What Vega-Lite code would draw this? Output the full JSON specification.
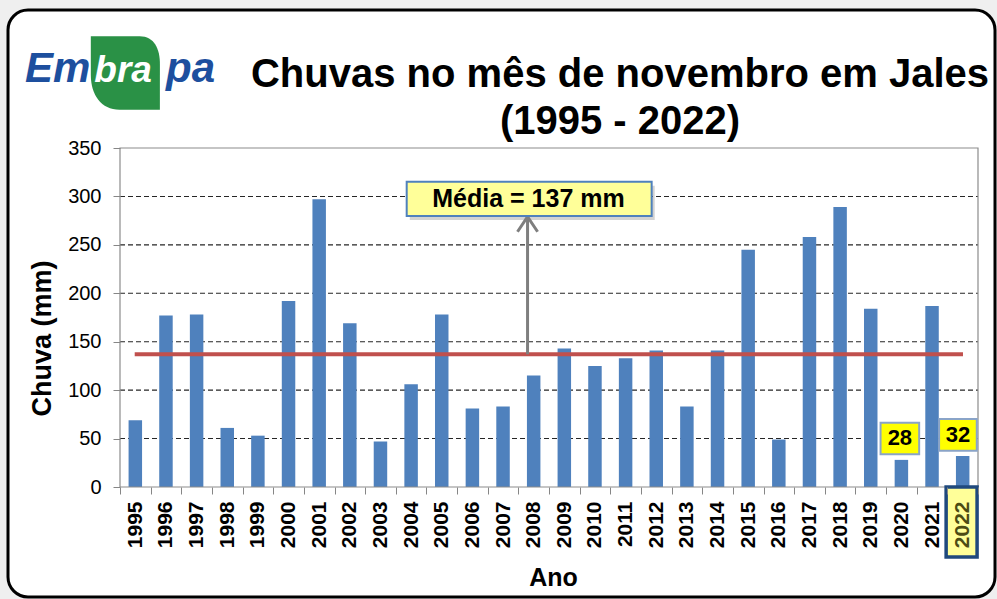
{
  "$schema": "https://vega.github.io/schema/vega-lite/v6.json",
  "width": 858,
  "height": 339,
  "autosize": {"type": "none"},
  "padding": {"left": 120, "top": 148, "right": 19, "bottom": 112},
  "background": "#efefef",
  "config": {
    "view": {"stroke": null},
    "font": "Liberation Sans"
  },
  "datasets": {
    "chuva": [
      {"ano": "1995", "chuva": 69}, {"ano": "1996", "chuva": 177}, {"ano": "1997", "chuva": 178},
      {"ano": "1998", "chuva": 61}, {"ano": "1999", "chuva": 53}, {"ano": "2000", "chuva": 192},
      {"ano": "2001", "chuva": 297}, {"ano": "2002", "chuva": 169}, {"ano": "2003", "chuva": 47},
      {"ano": "2004", "chuva": 106}, {"ano": "2005", "chuva": 178}, {"ano": "2006", "chuva": 81},
      {"ano": "2007", "chuva": 83}, {"ano": "2008", "chuva": 115}, {"ano": "2009", "chuva": 143},
      {"ano": "2010", "chuva": 125}, {"ano": "2011", "chuva": 133}, {"ano": "2012", "chuva": 141},
      {"ano": "2013", "chuva": 83}, {"ano": "2014", "chuva": 141}, {"ano": "2015", "chuva": 245},
      {"ano": "2016", "chuva": 49}, {"ano": "2017", "chuva": 258}, {"ano": "2018", "chuva": 289},
      {"ano": "2019", "chuva": 184}, {"ano": "2020", "chuva": 28}, {"ano": "2021", "chuva": 187},
      {"ano": "2022", "chuva": 32}
    ],
    "panel": [{"x": -3.655, "x2": 28.555, "y": 492.5, "y2": -113.6}],
    "grid": [{"y": 50}, {"y": 100}, {"y": 150}, {"y": 200}, {"y": 250}, {"y": 300}],
    "frame": [{"x": 0, "x2": 28, "y": 0, "y2": 350}],
    "media": [{"x": 0.48, "x2": 27.51, "y": 137}],
    "seta": [{"x": 13.3, "y": 137, "y2": 278}],
    "ponta": [{"x": 13.3, "y": 271.3}],
    "sombra": [{"x": 9.456, "x2": 17.45, "y": 311.1, "y2": 275.7}],
    "caixaMedia": [{"x": 9.356, "x2": 17.35, "y": 315.2, "y2": 279.8, "texto": "Média = 137 mm", "tx": 13.33, "ty": 297.5}],
    "caixa28": [{"x": 24.82, "x2": 26.08, "y": 66.4, "y2": 33.8, "texto": "28", "tx": 25.45, "ty": 50.1}],
    "caixa32": [{"x": 26.73, "x2": 27.96, "y": 70.2, "y2": 37.5, "texto": "32", "tx": 27.35, "ty": 53.8}],
    "caixa2022": [{"x": 26.96, "x2": 27.97, "y": 0, "y2": -72.3}],
    "titulo": [
      {"x": 16.317, "y": 413.0, "texto": "Chuvas no mês de novembro em Jales"},
      {"x": 16.317, "y": 364.5, "texto": "(1995 - 2022)"}
    ],
    "folha": [{"x": 0.163, "y": 427.4}],
    "logoEm": [{"x": -3.1, "y": 418.1, "texto": "Em"}],
    "logoPa": [{"x": 3.1, "y": 418.1, "texto": "pa"}],
    "logoBranco": [{"x": 0.1, "y": 418.1, "texto": "bra"}]
  },
  "resolve": {"scale": {"x": "independent"}},
  "layer": [
    {
      "layer": [
        {
          "data": {"name": "panel"},
          "mark": {"type": "rect", "fill": "#ffffff", "stroke": "#000000", "strokeWidth": 3, "cornerRadius": 20},
          "encoding": {
            "x": {"field": "x", "type": "quantitative", "scale": {"domain": [0, 28], "nice": false, "zero": false}, "axis": null},
            "x2": {"field": "x2"},
            "y": {"field": "y", "type": "quantitative", "scale": {"domain": [0, 350], "nice": false}, "title": "Chuva (mm)"},
            "y2": {"field": "y2"}
          }
        },
        {
          "data": {"name": "grid"},
          "mark": {"type": "rule", "stroke": "#262626", "strokeWidth": 1.1, "strokeDash": [5, 3]},
          "encoding": {
            "x": {"datum": 0, "type": "quantitative", "scale": {"domain": [0, 28], "nice": false, "zero": false}, "axis": null},
            "x2": {"datum": 28},
            "y": {"field": "y", "type": "quantitative", "scale": {"domain": [0, 350], "nice": false}, "title": "Chuva (mm)"}
          }
        }
      ]
    },
    {
      "data": {"name": "chuva"},
      "mark": {"type": "bar", "color": "#4F81BD", "width": {"band": 0.44}},
      "encoding": {
        "x": {
          "field": "ano",
          "type": "nominal",
          "sort": null,
          "scale": {"paddingInner": 0, "paddingOuter": 0},
          "axis": {
            "title": "Ano",
            "domain": false,
            "tickBand": "extent",
            "tickColor": "#868686",
            "tickSize": 7,
            "labelAngle": 270,
            "labelAlign": "right",
            "labelBaseline": "middle",
            "labelFont": "Liberation Sans",
            "labelFontSize": 21,
            "labelFontWeight": "bold",
            "labelPadding": 7,
            "labelColor": {"condition": {"test": "datum.value == '2022'", "value": "#4c4c14"}, "value": "#000000"},
            "titleFont": "Liberation Sans",
            "titleFontSize": 25,
            "titleFontWeight": "bold",
            "titleColor": "#000000",
            "titleBaseline": "alphabetic",
            "titleX": 433,
            "titleY": 98,
            "zindex": 1
          }
        },
        "y": {
          "field": "chuva",
          "type": "quantitative",
          "scale": {"domain": [0, 350], "nice": false},
          "title": "Chuva (mm)",
          "axis": {
            "values": [0, 50, 100, 150, 200, 250, 300, 350],
            "grid": false,
            "domain": false,
            "tickColor": "#868686",
            "tickSize": 7,
            "labelFont": "Liberation Sans",
            "labelFontSize": 20,
            "labelColor": "#000000",
            "labelPadding": 12,
            "titleFont": "Liberation Sans",
            "titleFontSize": 27,
            "titleFontWeight": "bold",
            "titleColor": "#000000",
            "titleAngle": 270,
            "titleAlign": "center",
            "titleBaseline": "middle",
            "titleX": -78,
            "titleY": 190,
            "zindex": 1
          }
        }
      }
    },
    {
      "encoding": {
        "x": {"field": "x", "type": "quantitative", "scale": {"domain": [0, 28], "nice": false, "zero": false}, "axis": null},
        "y": {"field": "y", "type": "quantitative", "scale": {"domain": [0, 350], "nice": false}, "title": "Chuva (mm)"}
      },
      "layer": [
        {
          "data": {"name": "frame"},
          "mark": {"type": "rect", "fill": null, "fillOpacity": 0, "stroke": "#8c8c8c", "strokeWidth": 1.2},
          "encoding": {"x2": {"field": "x2"}, "y2": {"field": "y2"}}
        },
        {
          "data": {"name": "media"},
          "mark": {"type": "rule", "stroke": "#C0504D", "strokeWidth": 4},
          "encoding": {"x2": {"field": "x2"}}
        },
        {
          "data": {"name": "seta"},
          "mark": {"type": "rule", "stroke": "#7f7f7f", "strokeWidth": 3},
          "encoding": {"y2": {"field": "y2"}}
        },
        {
          "data": {"name": "ponta"},
          "mark": {"type": "point", "shape": "M-0.67,0.5L0,-0.5L0.67,0.5", "filled": false, "stroke": "#7f7f7f", "strokeWidth": 3, "size": 900, "opacity": 1},
          "encoding": {}
        },
        {
          "data": {"name": "sombra"},
          "mark": {"type": "rect", "fill": "#808080", "opacity": 0.35},
          "encoding": {"x2": {"field": "x2"}, "y2": {"field": "y2"}}
        },
        {
          "data": {"name": "caixaMedia"},
          "mark": {"type": "rect", "fill": "#FFFF99", "stroke": "#4F81BD", "strokeWidth": 2},
          "encoding": {"x2": {"field": "x2"}, "y2": {"field": "y2"}}
        },
        {
          "data": {"name": "caixaMedia"},
          "mark": {"type": "text", "font": "Liberation Sans", "fontSize": 25, "fontWeight": "bold", "color": "#000000", "align": "center", "baseline": "middle"},
          "encoding": {
            "x": {"field": "tx", "type": "quantitative", "scale": {"domain": [0, 28], "nice": false, "zero": false}, "axis": null},
            "y": {"field": "ty", "type": "quantitative", "scale": {"domain": [0, 350], "nice": false}, "title": "Chuva (mm)"},
            "text": {"field": "texto"}
          }
        },
        {
          "data": {"name": "caixa28"},
          "mark": {"type": "rect", "fill": "#FFFF00", "stroke": "#8aa4c8", "strokeWidth": 2},
          "encoding": {"x2": {"field": "x2"}, "y2": {"field": "y2"}}
        },
        {
          "data": {"name": "caixa28"},
          "mark": {"type": "text", "font": "Liberation Sans", "fontSize": 22, "fontWeight": "bold", "color": "#000000", "align": "center", "baseline": "middle"},
          "encoding": {
            "x": {"field": "tx", "type": "quantitative", "scale": {"domain": [0, 28], "nice": false, "zero": false}, "axis": null},
            "y": {"field": "ty", "type": "quantitative", "scale": {"domain": [0, 350], "nice": false}, "title": "Chuva (mm)"},
            "text": {"field": "texto"}
          }
        },
        {
          "data": {"name": "caixa32"},
          "mark": {"type": "rect", "fill": "#FFFF00", "stroke": "#8aa4c8", "strokeWidth": 2},
          "encoding": {"x2": {"field": "x2"}, "y2": {"field": "y2"}}
        },
        {
          "data": {"name": "caixa32"},
          "mark": {"type": "text", "font": "Liberation Sans", "fontSize": 22, "fontWeight": "bold", "color": "#000000", "align": "center", "baseline": "middle"},
          "encoding": {
            "x": {"field": "tx", "type": "quantitative", "scale": {"domain": [0, 28], "nice": false, "zero": false}, "axis": null},
            "y": {"field": "ty", "type": "quantitative", "scale": {"domain": [0, 350], "nice": false}, "title": "Chuva (mm)"},
            "text": {"field": "texto"}
          }
        },
        {
          "data": {"name": "caixa2022"},
          "mark": {"type": "rect", "fill": "#FFFF99", "stroke": "#1F497D", "strokeWidth": 3.5},
          "encoding": {"x2": {"field": "x2"}, "y2": {"field": "y2"}}
        },
        {
          "data": {"name": "titulo"},
          "mark": {"type": "text", "font": "Liberation Sans", "fontSize": 40, "fontWeight": "bold", "color": "#000000", "align": "center", "baseline": "alphabetic"},
          "encoding": {"text": {"field": "texto"}}
        },
        {
          "data": {"name": "folha"},
          "mark": {"type": "point", "shape": "M-0.93,-1L0.4,-1C0.8,-1 0.95,-0.65 0.95,-0.25L0.95,1L-0.15,1C-0.65,1 -0.93,0.6 -0.93,0.05Z", "filled": true, "fill": "#2a9146", "strokeWidth": 0, "size": 5400, "opacity": 1},
          "encoding": {}
        },
        {
          "data": {"name": "logoEm"},
          "mark": {"type": "text", "font": "Liberation Sans", "fontSize": 42, "fontWeight": "bold", "fontStyle": "italic", "color": "#1d4f9e", "align": "left", "baseline": "alphabetic"},
          "encoding": {"text": {"field": "texto"}}
        },
        {
          "data": {"name": "logoPa"},
          "mark": {"type": "text", "font": "Liberation Sans", "fontSize": 42, "fontWeight": "bold", "fontStyle": "italic", "color": "#1d4f9e", "align": "right", "baseline": "alphabetic"},
          "encoding": {"text": {"field": "texto"}}
        },
        {
          "data": {"name": "logoBranco"},
          "mark": {"type": "text", "font": "Liberation Sans", "fontSize": 37, "fontWeight": "bold", "fontStyle": "italic", "color": "#ffffff", "align": "center", "baseline": "alphabetic"},
          "encoding": {"text": {"field": "texto"}}
        }
      ]
    }
  ]
}
